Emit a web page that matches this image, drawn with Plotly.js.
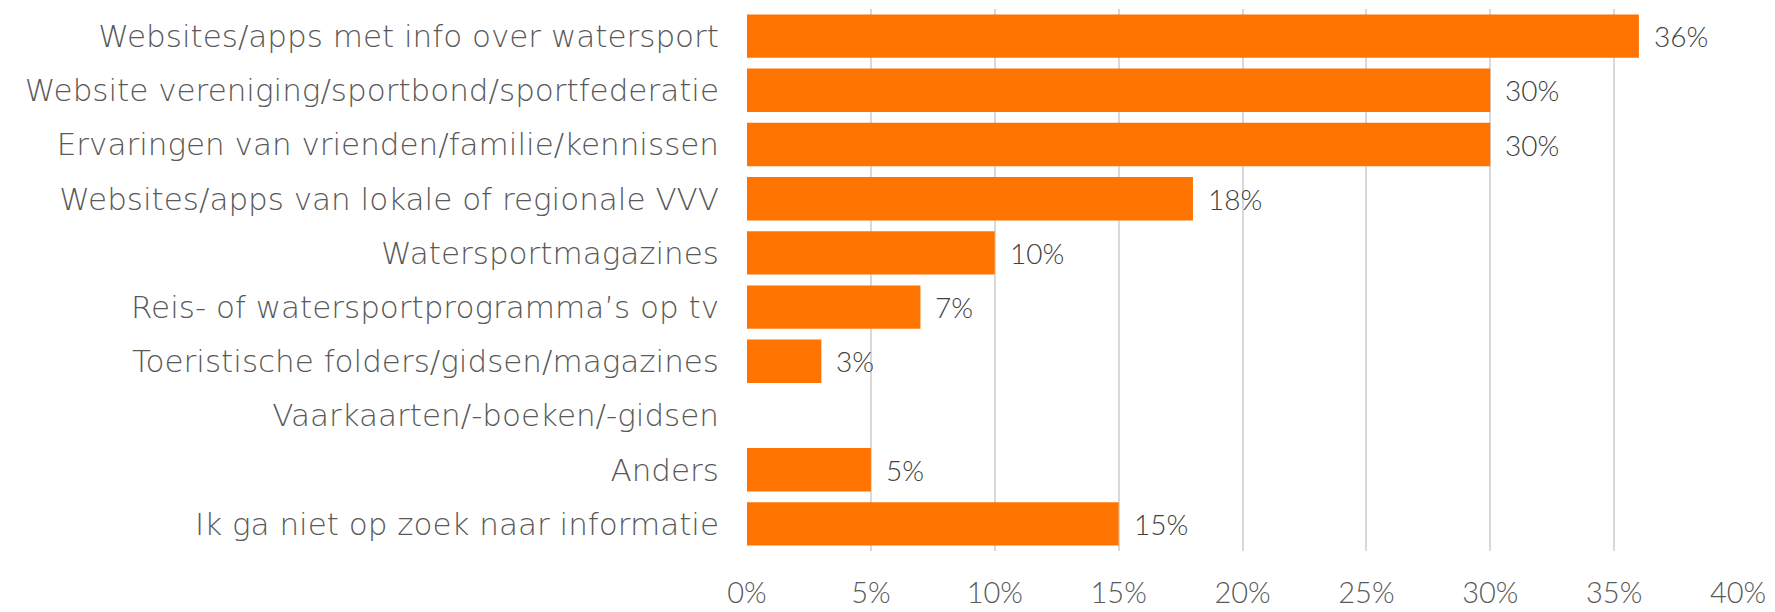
<!DOCTYPE html>
<html><head><meta charset="utf-8">
<script src="https://cdn.plot.ly/plotly-3.0.1.min.js"></script>
<style>html,body{margin:0;padding:0;background:#fff}#chart{width:1775px;height:612px}</style>
</head><body><div id="chart"></div>
<script>
const categories = [
  "Websites/apps met info over watersport",
  "Website vereniging/sportbond/sportfederatie",
  "Ervaringen van vrienden/familie/kennissen",
  "Websites/apps van lokale of regionale VVV",
  "Watersportmagazines",
  "Reis- of watersportprogramma’s op tv",
  "Toeristische folders/gidsen/magazines",
  "Vaarkaarten/-boeken/-gidsen",
  "Anders",
  "Ik ga niet op zoek naar informatie"
];
const values = [36, 30, 30, 18, 10, 7, 3, null, 5, 15];
const tickVals = [0, 5, 10, 15, 20, 25, 30, 35, 40];
const tickText = ["0%", "5%", "10%", "15%", "20%", "25%", "30%", "35%", "40%"];

const FONT = "Lato, 'Noto Sans', sans-serif";
const LFONT = "'DejaVu Sans', sans-serif";
const annotations = [];
categories.forEach((c, i) => {
  if (values[i] !== null) annotations.push({
    x: values[i], y: c, xref: 'x', yref: 'y', text: values[i] + '%',
    showarrow: false, xanchor: 'left', xshift: 13,
    font: {family: FONT, size: 28, weight: 300, color: '#404040'}
  });
});

Plotly.newPlot('chart', [{
  type: 'bar', orientation: 'h', x: values, y: categories,
  marker: {color: '#FF7300'}, hoverinfo: 'none'
}], {
  width: 1775, height: 612,
  margin: {l: 747, r: 37, t: 8.5, b: 60.5},
  paper_bgcolor: '#fff', plot_bgcolor: '#fff',
  bargap: 0.2, showlegend: false,
  xaxis: {range: [0, 40], tickvals: tickVals, ticktext: tickText,
    showgrid: true, gridcolor: '#d9d9d9', gridwidth: 2, zeroline: false,
    showline: false, ticks: '', ticklabelstandoff: 22,
    tickfont: {family: FONT, size: 29, weight: 300, color: '#595959'}, fixedrange: true},
  yaxis: {autorange: 'reversed', type: 'category', showgrid: false, zeroline: false,
    showline: false, ticks: '', ticklabelstandoff: 27,
    tickfont: {family: LFONT, size: 31, weight: 200, color: '#595959'}, fixedrange: true},
  annotations: annotations
}, {displayModeBar: false, staticPlot: true});
</script></body></html>
